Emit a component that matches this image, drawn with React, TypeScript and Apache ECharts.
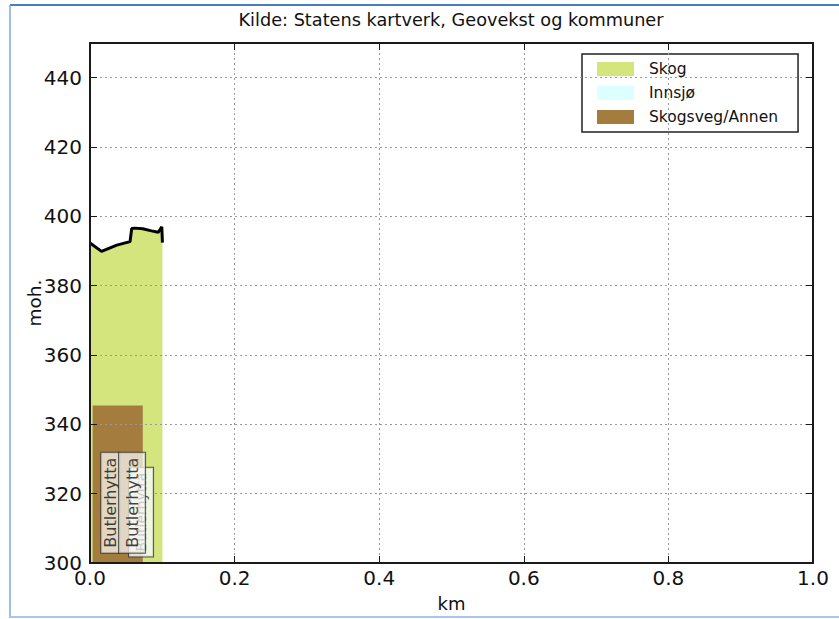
import React, { useEffect, useRef } from 'react';
import * as echarts from 'echarts';

const TITLE = 'Kilde: Statens kartverk, Geovekst og kommuner';
const X_NAME = 'km';
const Y_NAME = 'moh.';

const legendNames = ['Skog', 'Innsjø', 'Skogsveg/Annen'];
const legendColors = ['#d4e57e', '#dcffff', '#a37c3e'];

// Elevation profile (km, m)
const profileKm = [0, 0.016, 0.037, 0.0554, 0.0577, 0.062, 0.073, 0.085, 0.0946, 0.0993, 0.1002];
const profileM = [392.3, 389.9, 391.7, 392.7, 396.5, 396.6, 396.4, 395.8, 395.4, 397.0, 392.4];

// Skogsveg/Annen segment (km range, height)
const roadKm = [0.0037, 0.073];
const roadTop = 345.4;

// Place name labels (km, m)
const placeName = 'Butlerhytta';
const labelKm = [0.028, 0.0582];
const labelM = [317.4, 317.4];
const hiddenLabelKm = [0.0706];
const hiddenLabelM = [314.7];

const xTicks = [0, 0.2, 0.4, 0.6, 0.8, 1.0];
const yMin = 300;
const yMax = 450;
const yStep = 20;

const FONT = 'DejaVu Sans';

export default function App() {
  const ref = useRef<HTMLDivElement>(null);

  useEffect(() => {
    if (!ref.current) return;
    const chart = echarts.init(ref.current, null, { renderer: 'svg' });
    const profile = profileKm.map((k, i) => [k, profileM[i]]);
    const road = roadKm.map((k) => [k, roadTop]);
    const gridLine = { color: '#9a9a9a', type: [2, 3] as any, width: 1 };
    const axisLine = { show: true, onZero: false, lineStyle: { color: '#1a1a1a', width: 2 } };
    const axisTick = { show: true, inside: true, length: 7, lineStyle: { color: '#1a1a1a', width: 1 } };
    const labelStyle = (bg: string, fg: string, pad: number[], size: number) => ({
      show: true,
      formatter: placeName,
      rotate: 90,
      position: 'inside',
      fontSize: size,
      lineHeight: size,
      fontFamily: FONT,
      color: fg,
      backgroundColor: bg,
      borderColor: '#333',
      borderWidth: 1,
      padding: pad,
    });

    chart.setOption({
      animation: false,
      backgroundColor: '#ffffff',
      textStyle: { fontFamily: FONT },
      title: {
        text: TITLE,
        left: 451,
        top: 11,
        padding: 0,
        textAlign: 'center',
        textStyle: { fontSize: 17.7, fontWeight: 'normal', color: '#111', fontFamily: FONT },
      },
      grid: { left: 90, right: 26, top: 43, bottom: 56, containLabel: false },
      legend: {
        data: legendNames.map((n, i) => ({ name: n, itemStyle: { color: legendColors[i] } })),
        orient: 'vertical',
        left: 582,
        top: 54,
        icon: 'rect',
        itemWidth: 37,
        itemHeight: 14,
        itemGap: 6,
        padding: [6, 20, 6, 15],
        borderColor: '#222',
        borderWidth: 1.5,
        backgroundColor: '#ffffff',
        formatter: (n: string) => `{g| }${n}`,
        textStyle: {
          fontSize: 15.5,
          lineHeight: 18,
          color: '#111',
          fontFamily: FONT,
          rich: { g: { width: 10 } },
        },
      },
      xAxis: [
        {
          type: 'value',
          min: xTicks[0],
          max: xTicks[xTicks.length - 1],
          interval: 0.2,
          position: 'bottom',
          z: 5,
          axisLine,
          axisTick,
          axisLabel: {
            fontSize: 20,
            color: '#111',
            fontFamily: FONT,
            margin: 5,
            formatter: (v: number) => v.toFixed(1),
          },
          splitLine: { show: true, lineStyle: gridLine },
          name: X_NAME,
          nameLocation: 'middle',
          nameGap: 31,
          nameMoveOverlap: false,
          nameTextStyle: { fontSize: 18, color: '#111', fontFamily: FONT },
        },
        {
          type: 'value',
          min: xTicks[0],
          max: xTicks[xTicks.length - 1],
          interval: 0.2,
          position: 'top',
          z: 5,
          axisLine,
          axisTick,
          axisLabel: { show: false },
          splitLine: { show: false },
        },
      ],
      yAxis: [
        {
          type: 'value',
          min: yMin,
          max: yMax,
          interval: yStep,
          position: 'left',
          z: 5,
          axisLine,
          axisTick,
          axisLabel: {
            fontSize: 20,
            color: '#111',
            fontFamily: FONT,
            margin: 8,
            showMaxLabel: false,
          },
          splitLine: { show: true, lineStyle: gridLine },
          name: Y_NAME,
          nameLocation: 'middle',
          nameGap: 46,
          nameMoveOverlap: false,
          nameTextStyle: { fontSize: 18.5, color: '#111', fontFamily: FONT },
        },
        {
          type: 'value',
          min: yMin,
          max: yMax,
          interval: yStep,
          position: 'right',
          z: 5,
          axisLine,
          axisTick,
          axisLabel: { show: false },
          splitLine: { show: false },
        },
      ],
      graphic: [
        { type: 'line', shape: { x1: 10, y1: 5, x2: 839, y2: 5 }, style: { stroke: '#4a7ebb', lineWidth: 2 }, silent: true },
        { type: 'line', shape: { x1: 10, y1: 5, x2: 10, y2: 618 }, style: { stroke: '#7fa7dc', lineWidth: 1.5 }, silent: true },
        { type: 'line', shape: { x1: 10, y1: 617, x2: 839, y2: 617 }, style: { stroke: '#a9c6ee', lineWidth: 2 }, silent: true },
      ],
      series: [
        {
          name: legendNames[0],
          type: 'line',
          data: profile,
          symbol: 'none',
          color: legendColors[0],
          lineStyle: { width: 0 },
          areaStyle: { color: legendColors[0], opacity: 1, origin: 'start' },
          z: 1,
        },
        {
          name: legendNames[1],
          type: 'line',
          data: [],
          symbol: 'none',
          color: legendColors[1],
        },
        {
          name: legendNames[2],
          type: 'line',
          data: road,
          symbol: 'none',
          color: legendColors[2],
          lineStyle: { width: 0 },
          areaStyle: { color: legendColors[2], opacity: 1, origin: 'start' },
          z: 2,
        },
        {
          name: 'profil',
          type: 'line',
          data: profile,
          symbol: 'none',
          color: '#000',
          lineStyle: { color: '#000', width: 3 },
          z: 3,
        },
        {
          name: 'skjult',
          type: 'scatter',
          data: hiddenLabelKm.map((k, i) => [k, hiddenLabelM[i]]),
          symbolSize: 1,
          itemStyle: { color: 'rgba(0,0,0,0)' },
          label: labelStyle('#fafaf8', '#222', [3, 5, 7, 5], 14),
          z: 8,
        },
        {
          name: 'steder',
          type: 'scatter',
          data: [
            { value: [labelKm[0], labelM[0]], label: labelStyle('#f3eee3', '#111', [1, 5, 1, 5], 16) },
            { value: [labelKm[1], labelM[1]], label: labelStyle('rgba(250,249,246,0.9)', '#111', [3, 5, 7, 5], 16) },
          ],
          symbolSize: 1,
          itemStyle: { color: 'rgba(0,0,0,0)' },
          label: labelStyle('#f3eee3', '#111', [1, 5, 1, 5], 16),
          z: 9,
        },
      ],
    });
    return () => chart.dispose();
  }, []);

  return (
    <div
      ref={ref}
      style={{ position: 'absolute', left: 0, top: 0, width: 839, height: 619, background: '#fff' }}
    />
  );
}
